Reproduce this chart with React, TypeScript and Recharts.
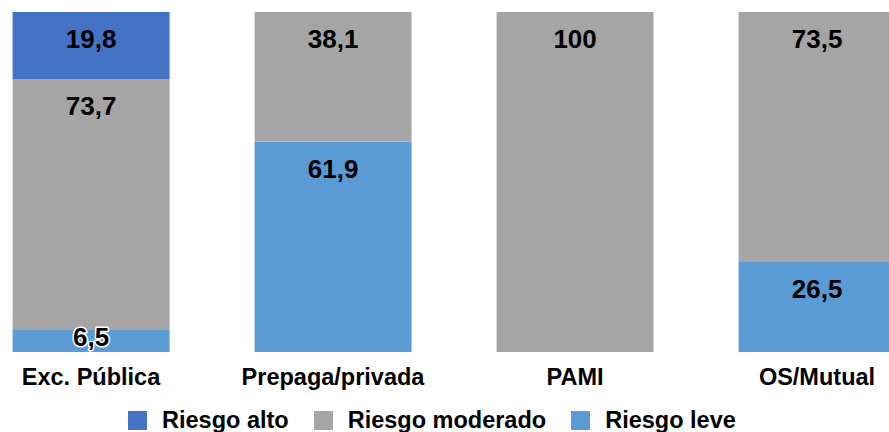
import React from "react";
import { BarChart, Bar, XAxis, YAxis, Legend, LabelList } from "recharts";

const categories = ["Exc. Pública", "Prepaga/privada", "PAMI", "OS/Mutual"];
const riesgoAlto = [19.8, 0, 0, 0];
const riesgoModerado = [73.7, 38.1, 100, 73.5];
const riesgoLeve = [6.5, 61.9, 0, 26.5];

const seriesNames = ["Riesgo alto", "Riesgo moderado", "Riesgo leve"];
const seriesColors = ["#4472C4", "#A5A5A5", "#5B9BD5"];

const data = categories.map((c, i) => ({
  name: c,
  alto: riesgoAlto[i],
  moderado: riesgoModerado[i],
  leve: riesgoLeve[i],
}));

const FONT = "'Liberation Sans', Arial, sans-serif";

const fmt = (v: number) => String(v).replace(".", ",");

const renderLabel = (props: any) => {
  const { x, y, width, height, value } = props;
  if (!value) return null;
  const h = Number(height);
  const small = h < 30;
  const by = Number(y) + Math.min(36, h / 2 + 5);
  return (
    <text
      x={Number(x) + Number(width) / 2}
      y={by}
      textAnchor="middle"
      fontFamily={FONT}
      fontSize={26}
      fontWeight="bold"
      fill="#000"
      stroke={small ? "#fff" : "none"}
      strokeWidth={small ? 3 : 0}
      strokeLinejoin="round"
      paintOrder="stroke"
    >
      {fmt(value)}
    </text>
  );
};

const Tick = (props: any) => {
  const { x, y, payload } = props;
  return (
    <text
      x={x}
      y={Number(y) + 33}
      textAnchor="middle"
      fontFamily={FONT}
      fontSize={23.5}
      fontWeight="bold"
      fill="#000"
    >
      {payload.value}
    </text>
  );
};

const LegendContent = () => (
  <div
    style={{
      display: "flex",
      alignItems: "center",
      height: 32,
      paddingLeft: 158,
      fontFamily: FONT,
      fontSize: 23.5,
      fontWeight: "bold",
      color: "#000",
      whiteSpace: "nowrap",
      transform: "translateY(4px)",
    }}
  >
    {seriesNames.map((n, i) => (
      <div key={n} style={{ display: "flex", alignItems: "center", marginRight: 25 }}>
        <div style={{ width: 19, height: 19, background: seriesColors[i], marginRight: 15 }} />
        <span>{n}</span>
      </div>
    ))}
  </div>
);

export default function App() {
  return (
    <div
      style={{
        position: "fixed",
        left: 0,
        top: 0,
        width: 889,
        height: 432,
        overflow: "hidden",
        background: "#fff",
      }}
    >
      <div style={{ position: "absolute", left: -30, top: 0 }}>
        <BarChart
          width={968}
          height={432}
          data={data}
          margin={{ top: 12, right: 0, left: 0, bottom: 0 }}
          barCategoryGap="17.6%"
        >
          <XAxis
            dataKey="name"
            axisLine={false}
            tickLine={false}
            tickSize={0}
            tickMargin={0}
            height={48}
            interval={0}
            tick={<Tick />}
          />
          <YAxis hide domain={[0, 100]} />
          <Legend
            verticalAlign="bottom"
            content={<LegendContent />}
            wrapperStyle={{ height: 32, left: 0, width: 968 }}
          />
          <Bar dataKey="leve" stackId="a" fill={seriesColors[2]} isAnimationActive={false}>
            <LabelList dataKey="leve" content={renderLabel} />
          </Bar>
          <Bar dataKey="moderado" stackId="a" fill={seriesColors[1]} isAnimationActive={false}>
            <LabelList dataKey="moderado" content={renderLabel} />
          </Bar>
          <Bar dataKey="alto" stackId="a" fill={seriesColors[0]} isAnimationActive={false}>
            <LabelList dataKey="alto" content={renderLabel} />
          </Bar>
        </BarChart>
      </div>
    </div>
  );
}
